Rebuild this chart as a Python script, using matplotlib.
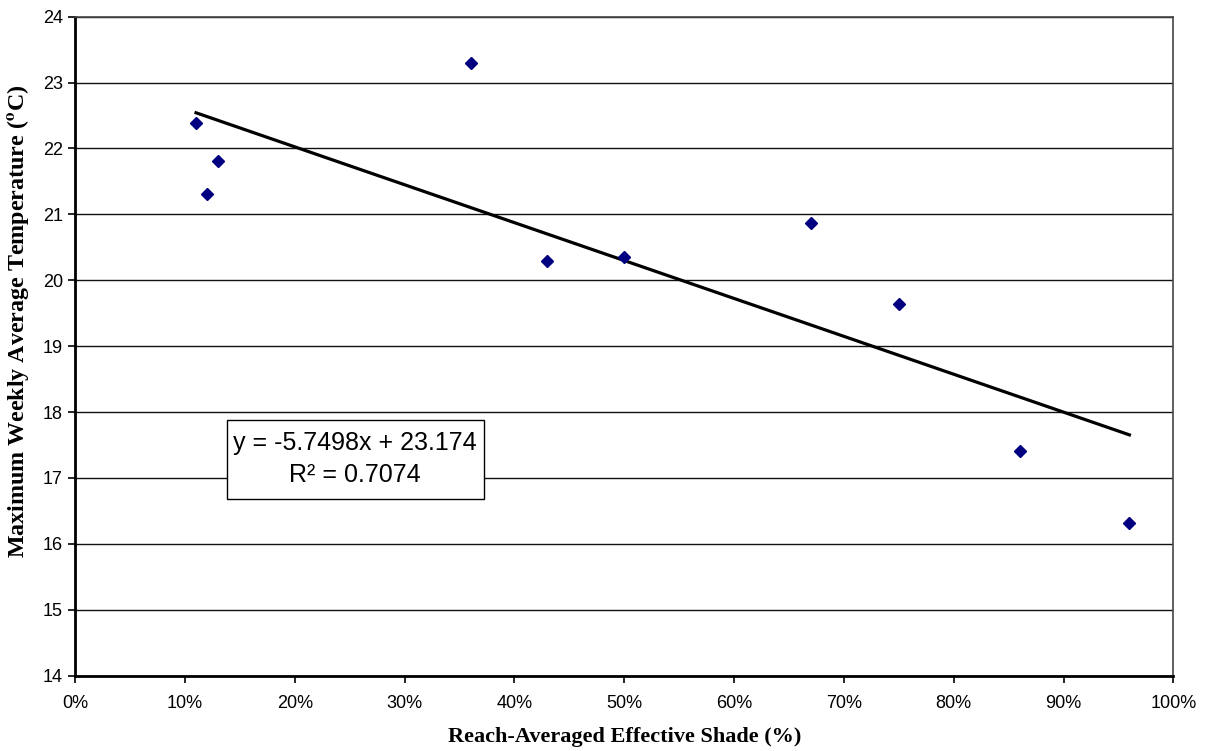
import matplotlib
matplotlib.use("Agg")
import matplotlib.pyplot as plt
import numpy as np
from matplotlib.patches import Rectangle
from matplotlib.ticker import FuncFormatter, MultipleLocator

# reach-averaged effective shade (fraction) vs. max weekly average temperature (C)
shade = [0.11, 0.12, 0.13, 0.36, 0.43, 0.50, 0.67, 0.75, 0.86, 0.96]
temp = [22.39, 21.31, 21.81, 23.29, 20.29, 20.35, 20.865, 19.64, 17.405, 16.32]

# linear trend reported on the chart
slope = -5.7498
intercept = 23.174
r_squared = 0.7074

plt.rcParams["mathtext.fontset"] = "stix"

fig = plt.figure(figsize=(12.08, 7.51), dpi=100)
ax = fig.add_axes([0.0623, 0.1003, 0.9090, 0.8775])

ax.set_xlim(0, 1)
ax.set_ylim(14, 24)
ax.yaxis.set_major_locator(MultipleLocator(1))
ax.xaxis.set_major_locator(MultipleLocator(0.1))
ax.xaxis.set_major_formatter(FuncFormatter(lambda v, _: f"{v * 100:.0f}%"))

ax.grid(axis="y", color="#111111", linewidth=1.0)
ax.set_axisbelow(True)

for side in ("left", "bottom"):
    ax.spines[side].set_linewidth(2.0)
    ax.spines[side].set_color("black")
for side in ("top", "right"):
    ax.spines[side].set_linewidth(1.2)
    ax.spines[side].set_color("#444444")

ax.tick_params(direction="out", length=5, width=1.2, colors="black",
               labelsize=13, pad=4)
for lbl in ax.get_xticklabels() + ax.get_yticklabels():
    lbl.set_fontfamily("Liberation Sans")
ax.tick_params(axis="x", pad=9)

xs = np.array([min(shade), max(shade)])
ax.plot(xs, slope * xs + intercept, color="black", linewidth=2.3, zorder=3)

ax.plot(shade, temp, linestyle="none", marker="D", markersize=6.5,
        color="#000080", zorder=4)

# equation box
ax.add_patch(Rectangle((0.1383, 0.2677), 0.2336, 0.1203, transform=ax.transAxes,
                       facecolor="white", edgecolor="black", linewidth=1.0,
                       zorder=5))
ax.text(0.255, 0.3285,
        f"y = {slope}x + {intercept}\nR² = {r_squared}",
        transform=ax.transAxes, fontsize=18, fontfamily="Liberation Sans",
        ha="center", va="center", linespacing=1.45, zorder=6)

ax.set_xlabel("Reach-Averaged Effective Shade (%)", fontsize=16,
              fontfamily="Liberation Serif", fontweight="bold", va="center")
ax.xaxis.set_label_coords(0.5, -0.0935)
ax.set_ylabel(r"Maximum Weekly Average Temperature ($\mathbf{^o}$C)",
              fontsize=17.3, fontfamily="Liberation Serif", fontweight="bold",
              va="center")
ax.yaxis.set_label_coords(-0.052, 0.5375)

fig.savefig("out.png", dpi=100, facecolor="white")
